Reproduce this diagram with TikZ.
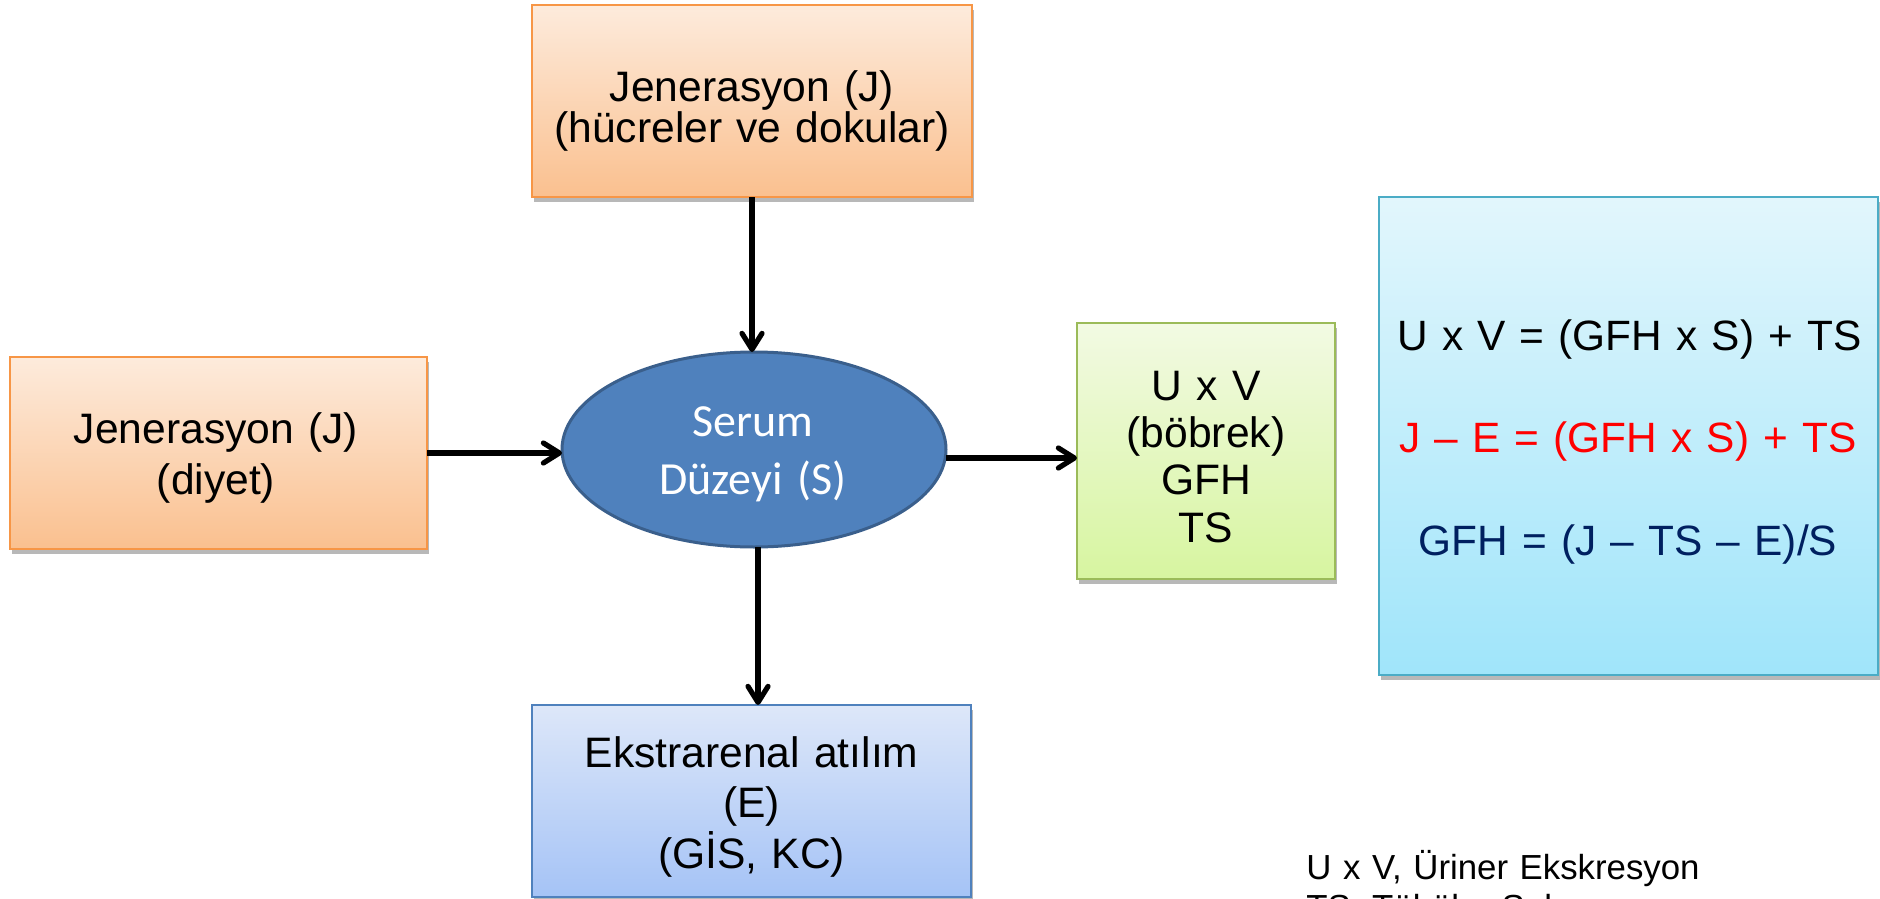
\documentclass[tikz,border=0pt]{standalone}
\usepackage{fontspec}
\setmainfont{Liberation Sans}
\newfontfamily\calfont{Carlito}
\usetikzlibrary{shapes.geometric,arrows.meta,shadows}
\definecolor{orgT}{HTML}{FDEBDC}
\definecolor{orgD}{HTML}{FAC08F}
\definecolor{orgB}{HTML}{F79646}
\definecolor{grnT}{HTML}{F2FAE3}
\definecolor{grnD}{HTML}{D7F5A0}
\definecolor{grnB}{HTML}{9BBB59}
\definecolor{bluT}{HTML}{DDE7F9}
\definecolor{bluD}{HTML}{A5C3F6}
\definecolor{bluB}{HTML}{4F81BD}
\definecolor{cyaT}{HTML}{E2F6FC}
\definecolor{cyaD}{HTML}{A0E5FA}
\definecolor{cyaB}{HTML}{4BACC6}
\definecolor{ellF}{HTML}{4F81BD}
\definecolor{ellB}{HTML}{3A5F8C}
\definecolor{navyT}{HTML}{002060}
\begin{document}
\begin{tikzpicture}[x=0.5pt,y=-0.5pt,
  box/.style={rectangle, draw, line width=1pt, inner sep=0pt, outer sep=0pt,
    drop shadow={shadow xshift=1.2pt, shadow yshift=-2.5pt, opacity=0.28, fill=black}},
  obox/.style={box, draw=orgB, top color=orgT, bottom color=orgD},
  gbox/.style={box, draw=grnB, top color=grnT, bottom color=grnD},
  bbox/.style={box, draw=bluB, top color=bluT, bottom color=bluD},
  cbox/.style={box, draw=cyaB, top color=cyaT, bottom color=cyaD},
  ellnode/.style={ellipse, draw=ellB, fill=ellF, line width=1.5pt, inner sep=0pt, outer sep=0pt},
  txt/.style={text width=230pt, align=center, inner sep=0pt, anchor=base},
  ftxt/.style={txt, text width=300pt, font={\fontsize{21.2pt}{24pt}\selectfont}},
  arr/.style={line width=2.6pt, -{Straight Barb[length=8pt,width=10pt,round]}}
]
\useasboundingbox (0,0) rectangle (1880,899);
\clip (0,0) rectangle (1880,899);
\fill[white] (0,0) rectangle (1880,899);

% boxes
\node[obox, minimum width=220pt, minimum height=96pt] (top) at (752,101) {};
\node[obox, minimum width=208.5pt, minimum height=96pt] (left) at (218.5,453) {};
\node[ellnode, minimum width=192pt, minimum height=97.5pt] (ell) at (754,449.5) {};
\node[gbox, minimum width=129pt, minimum height=128pt] (grn) at (1206,451) {};
\node[cbox, minimum width=249.5pt, minimum height=239pt] (frm) at (1628.5,436) {};
\node[bbox, minimum width=219.5pt, minimum height=96pt] (bot) at (751.5,801) {};

% texts
\node[txt, font={\fontsize{21.3pt}{20.5pt}\selectfont\lineskiplimit=-100pt}] (topT) at (752,102)
  {Jenerasyon (J)\\(hücreler ve dokular)};
\node[txt, font={\fontsize{21.3pt}{25.5pt}\selectfont\lineskiplimit=-100pt}] (leftT) at (216,443)
  {Jenerasyon (J)\\(diyet)};
\node[txt, text=white, font={\calfont\fontsize{23pt}{29pt}\selectfont\lineskiplimit=-100pt}] (ellT) at (753,436)
  {Serum\\Düzeyi (S)};
\node[txt, font={\fontsize{21.3pt}{23.7pt}\selectfont\lineskiplimit=-100pt}] (grnT) at (1206,400)
  {U x V\\(böbrek)\\GFH\\TS};
\node[txt, font={\fontsize{21.3pt}{25.25pt}\selectfont\lineskiplimit=-100pt}] (botT) at (751.5,767)
  {Ekstrarenal atılım\\(E)\\(GİS, KC)};
\node[ftxt] (f1) at (1629.5,350) {U x V = (GFH x S) + TS};
\node[ftxt, text=red] (f2) at (1628,452) {J – E = (GFH x S) + TS};
\node[ftxt, text=navyT] (f3) at (1628,555) {GFH = (J – TS – E)/S};
\node[anchor=base west, align=left, text width=250pt, inner sep=0pt,
  font={\fontsize{17.4pt}{20pt}\selectfont}] (note) at (1306,879)
  {U x V, Üriner Ekskresyon\\TS, Tübüler Sekresyon};

% connectors
\coordinate (la) at (0,453);
\coordinate (ra) at (0,458);
\coordinate (ba) at (758,0);
\draw[arr] (top.south) -- (top.south |- ell.north);
\draw[arr] (left.east |- la) -- (ell.west |- la);
\draw[arr] (ell.east |- ra) -- (grn.west |- ra);
\draw[arr] (ell.south -| ba) -- (bot.north -| ba);
\end{tikzpicture}
\end{document}
